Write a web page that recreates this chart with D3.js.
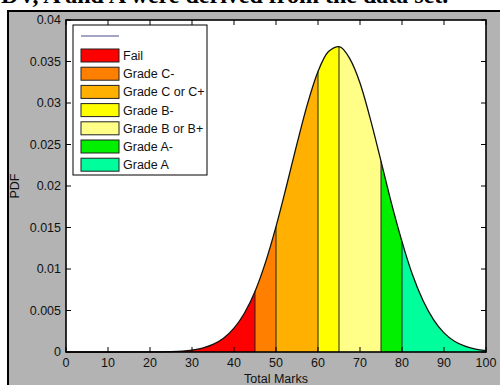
<!DOCTYPE html>
<html>
<head>
<meta charset="utf-8">
<script src="https://cdn.jsdelivr.net/npm/d3@7"></script>
<style>
  body { margin: 0; background: #fff; }
  svg { display: block; font-family: Arial, "Liberation Sans", sans-serif; }
  .tick-label { font-size: 12.5px; fill: #111; }
</style>
</head>
<body>
<div id="wrapper"></div>
<script>
// curve samples (Total Marks -> PDF)
const marks = [0, 10, 20, 25, 30, 32.5, 35, 37.5, 40, 42.5, 45, 47.5, 50, 52.5, 55, 57.5,
  60, 62.5, 65, 67.5, 70, 72.5, 75, 77.5, 80, 82.5, 85, 87.5, 90, 92.5, 95, 97.5, 100];
const pdfValues = [0, 0, 0.00001, 0.00005, 0.00023, 0.00047, 0.00091, 0.00166, 0.00287, 0.0047,
  0.0073, 0.0108, 0.0151, 0.0200, 0.0251, 0.0299, 0.0338, 0.0362, 0.0368, 0.0354, 0.0324,
  0.0280, 0.0230, 0.0179, 0.0133, 0.0093, 0.0062, 0.0039, 0.0023, 0.0013, 0.0007, 0.00036, 0.00017];

const grades = ["Fail", "Grade C-", "Grade C or C+", "Grade B-", "Grade B or B+", "Grade A-", "Grade A"];
const gradeFrom = [0, 45, 50, 60, 65, 75, 80];
const gradeTo = [45, 50, 60, 65, 75, 80, 100];
const gradeColors = ["#ff0000", "#ff8000", "#ffb000", "#ffff00", "#ffff88", "#00f000", "#00ff9c"];

const xTicks = [0, 10, 20, 30, 40, 50, 60, 70, 80, 90, 100];
const yTicks = [0, 0.005, 0.01, 0.015, 0.02, 0.025, 0.03, 0.035, 0.04];

const points = marks.map((m, i) => ({ x: m, y: pdfValues[i] }));

const width = 500;
const height = 385;
const plot = { left: 66, right: 486, top: 20, bottom: 352 };

const svg = d3.select("#wrapper").append("svg")
  .attr("width", width).attr("height", height);

// page text above the figure (cut off at the top)
svg.append("text")
  .attr("x", 1).attr("y", 3)
  .style("font-family", "'Liberation Serif', 'Times New Roman', serif")
  .style("font-size", "24px")
  .style("font-weight", "bold")
  .text("DV, A and A were derived from the data set.");

// figure background
svg.append("rect")
  .attr("x", 8).attr("y", 11).attr("width", width).attr("height", height)
  .attr("fill", "#b3b3b3").attr("stroke", "#000").attr("stroke-width", 2);

const xScale = d3.scaleLinear().domain([0, 100]).range([plot.left, plot.right]);
const yScale = d3.scaleLinear().domain([0, 0.04]).range([plot.bottom, plot.top]);

svg.append("rect")
  .attr("x", plot.left).attr("y", plot.top)
  .attr("width", plot.right - plot.left).attr("height", plot.bottom - plot.top)
  .attr("fill", "#fff");

const defs = svg.append("defs");
const area = d3.area()
  .x((d) => xScale(d.x))
  .y0(yScale(0))
  .y1((d) => yScale(d.y))
  .curve(d3.curveMonotoneX);

// bands
grades.forEach((g, i) => {
  defs.append("clipPath").attr("id", "band" + i)
    .append("rect")
    .attr("x", xScale(gradeFrom[i])).attr("y", plot.top)
    .attr("width", xScale(gradeTo[i]) - xScale(gradeFrom[i]))
    .attr("height", plot.bottom - plot.top);
  svg.append("path")
    .datum(points)
    .attr("clip-path", "url(#band" + i + ")")
    .attr("fill", gradeColors[i])
    .attr("d", area);
});

// band edges
const edges = gradeFrom.slice(1);
svg.selectAll(".edge")
  .data(edges)
  .join("line")
  .attr("class", "edge")
  .attr("x1", (d) => xScale(d)).attr("x2", (d) => xScale(d))
  .attr("y1", yScale(0))
  .attr("y2", (d) => yScale(pdfValues[marks.indexOf(d)]))
  .attr("stroke", "#222").attr("stroke-width", 1);

// pdf curve
svg.append("path")
  .datum(points)
  .attr("fill", "none")
  .attr("stroke", "#111")
  .attr("stroke-width", 1.3)
  .attr("d", d3.line().x((d) => xScale(d.x)).y((d) => yScale(d.y)).curve(d3.curveMonotoneX));

// axes box with inward ticks
const tickLen = 5;
const axes = svg.append("g").attr("stroke", "#000").attr("stroke-width", 1);
xTicks.forEach((t) => {
  axes.append("line").attr("x1", xScale(t)).attr("x2", xScale(t))
    .attr("y1", plot.bottom).attr("y2", plot.bottom - tickLen);
  axes.append("line").attr("x1", xScale(t)).attr("x2", xScale(t))
    .attr("y1", plot.top).attr("y2", plot.top + tickLen);
});
yTicks.forEach((t) => {
  axes.append("line").attr("x1", plot.left).attr("x2", plot.left + tickLen)
    .attr("y1", yScale(t)).attr("y2", yScale(t));
  axes.append("line").attr("x1", plot.right).attr("x2", plot.right - tickLen)
    .attr("y1", yScale(t)).attr("y2", yScale(t));
});
svg.append("rect")
  .attr("x", plot.left).attr("y", plot.top)
  .attr("width", plot.right - plot.left).attr("height", plot.bottom - plot.top)
  .attr("fill", "none").attr("stroke", "#000").attr("stroke-width", 1.6);

// tick labels
svg.selectAll(".xlab")
  .data(xTicks)
  .join("text")
  .attr("class", "tick-label")
  .attr("x", (d) => xScale(d)).attr("y", plot.bottom + 15)
  .attr("text-anchor", "middle")
  .text((d) => d);

svg.selectAll(".ylab")
  .data(yTicks)
  .join("text")
  .attr("class", "tick-label")
  .attr("x", plot.left - 5).attr("y", (d) => yScale(d) + 4)
  .attr("text-anchor", "end")
  .text((d) => d);

svg.append("text")
  .attr("class", "tick-label")
  .attr("x", (plot.left + plot.right) / 2).attr("y", 383)
  .attr("text-anchor", "middle")
  .text("Total Marks");

svg.append("text")
  .attr("class", "tick-label")
  .attr("transform", `translate(19, ${(plot.top + plot.bottom) / 2}) rotate(-90)`)
  .attr("text-anchor", "middle")
  .text("PDF");

// legend
const legend = svg.append("g");
legend.append("rect")
  .attr("x", 73).attr("y", 25).attr("width", 134).attr("height", 150)
  .attr("fill", "#fff").attr("stroke", "#000").attr("stroke-width", 1);
legend.append("line")
  .attr("x1", 81).attr("x2", 119).attr("y1", 36).attr("y2", 36)
  .attr("stroke", "#4a4a90").attr("stroke-width", 1.2);
grades.forEach((g, i) => {
  const cy = 55.5 + i * 18.2;
  legend.append("rect")
    .attr("x", 81).attr("y", cy - 6.5).attr("width", 38).attr("height", 13)
    .attr("fill", gradeColors[i]).attr("stroke", "#222").attr("stroke-width", 1);
  legend.append("text")
    .attr("class", "tick-label")
    .attr("x", 123).attr("y", cy + 4.5)
    .text(g);
});
</script>
</body>
</html>
